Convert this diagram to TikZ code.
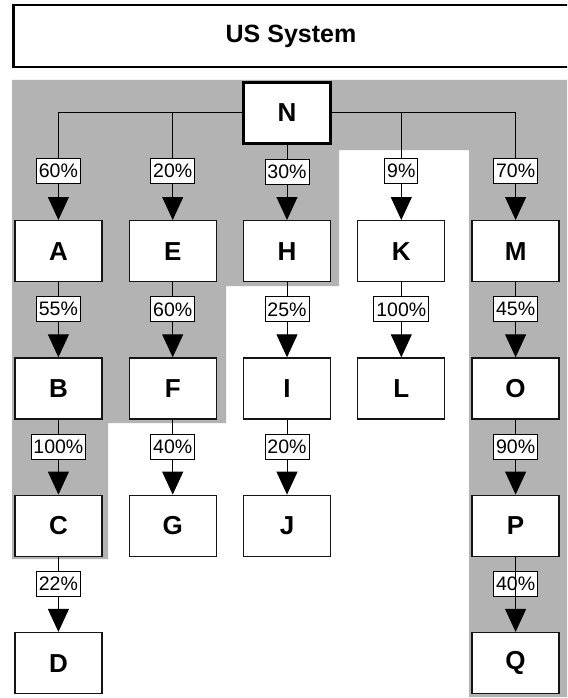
\documentclass[tikz,border=0pt]{standalone}
\usepackage{fontspec}
\setmainfont{Liberation Sans}
\usetikzlibrary{
    arrows.meta,
    positioning
}
\definecolor{sysgray}{RGB}{179,179,179}
\definecolor{sysline}{RGB}{20,20,20}

\begin{document}
\begin{tikzpicture}[
    x=1pt, y=-1pt,
    unitbox/.style={
        draw=sysline,
        line width=1.3pt,
        fill=white,
        minimum width=87pt,
        minimum height=61pt,
        inner sep=0pt,
        font=\fontsize{26}{30}\selectfont\bfseries
    },
    rootbox/.style={
        unitbox,
        draw=black,
        line width=3pt
    },
    titlebox/.style={
        draw=black,
        line width=2.7pt,
        fill=white,
        minimum width=590pt,
        minimum height=62pt,
        inner sep=0pt,
        font=\fontsize{25}{30}\selectfont\bfseries
    },
    pctlabel/.style={
        draw=black,
        line width=0.9pt,
        fill=white,
        inner xsep=2.5pt,
        inner ysep=0pt,
        minimum height=25pt,
        font=\fontsize{19.5}{22}\selectfont
    },
    flowarrow/.style={
        -{Triangle[length=23pt, width=21pt]},
        line width=1pt,
        draw=black
    }
]

\path[use as bounding box, fill=white] (0,0) rectangle (567,698);

% shaded area behind the chains
\fill[sysgray] (12,80) -- (567,80) -- (567,697) -- (469,697)
    -- (469,150) -- (339,150) -- (339,286) -- (226,286)
    -- (226,423) -- (108,423) -- (108,559) -- (12,559) -- cycle;

\begin{scope}
\clip (0,0) rectangle (567,698);
\node[titlebox, anchor=west] (title) at (12,36) {};
\end{scope}
\node (titletext) at (291,36) [font=\fontsize{25}{30}\selectfont\bfseries] {US System};

\node[rootbox] (N) at (287,113) {N};

\node[unitbox, below=75pt of N] (H) {H};
\node[unitbox, left=26pt of H] (E) {E};
\node[unitbox, left=26pt of E] (A) {A};
\node[unitbox, right=26pt of H] (K) {K};
\node[unitbox, right=26pt of K] (M) {M};

\node[unitbox, below=75pt of A] (B) {B};
\node[unitbox, below=75pt of B] (C) {C};
\node[unitbox, below=75pt of C] (D) {D};

\node[unitbox, below=75pt of E] (F) {F};
\node[unitbox, below=75pt of F] (G) {G};

\node[unitbox, below=75pt of H] (I) {I};
\node[unitbox, below=75pt of I] (J) {J};

\node[unitbox, below=75pt of K] (L) {L};

\node[unitbox, below=75pt of M] (O) {O};
\node[unitbox, below=75pt of O] (P) {P};
\node[unitbox, below=75pt of P] (Q) {Q};

\draw[flowarrow] (N.west) -| node[pctlabel, pos=0.77] (pNA) {60\%} (A.north);
\draw[flowarrow] (N.west) -| node[pctlabel, pos=0.77] (pNE) {20\%} (E.north);
\draw[flowarrow] (N) -- node[pctlabel, pos=0.36] (pNH) {30\%} (H);
\draw[flowarrow] (N.east) -| node[pctlabel, pos=0.77] (pNK) {9\%} (K.north);
\draw[flowarrow] (N.east) -| node[pctlabel, pos=0.77] (pNM) {70\%} (M.north);

\draw[flowarrow] (A) -- node[pctlabel, pos=0.36] (pAB) {55\%} (B);
\draw[flowarrow] (B) -- node[pctlabel, pos=0.36] (pBC) {100\%} (C);
\draw[flowarrow] (C) -- node[pctlabel, pos=0.36] (pCD) {22\%} (D);

\draw[flowarrow] (E) -- node[pctlabel, pos=0.36] (pEF) {60\%} (F);
\draw[flowarrow] (F) -- node[pctlabel, pos=0.36] (pFG) {40\%} (G);

\draw[flowarrow] (H) -- node[pctlabel, pos=0.36] (pHI) {25\%} (I);
\draw[flowarrow] (I) -- node[pctlabel, pos=0.36] (pIJ) {20\%} (J);

\draw[flowarrow] (K) -- node[pctlabel, pos=0.36] (pKL) {100\%} (L);

\draw[flowarrow] (M) -- node[pctlabel, pos=0.36] (pMO) {45\%} (O);
\draw[flowarrow] (O) -- node[pctlabel, pos=0.36] (pOP) {90\%} (P);
% here the line runs over its label
\path (P) -- node[pctlabel, pos=0.36] (pPQ) {40\%} (Q);
\draw[flowarrow] (P) -- (Q);

\end{tikzpicture}
\end{document}
